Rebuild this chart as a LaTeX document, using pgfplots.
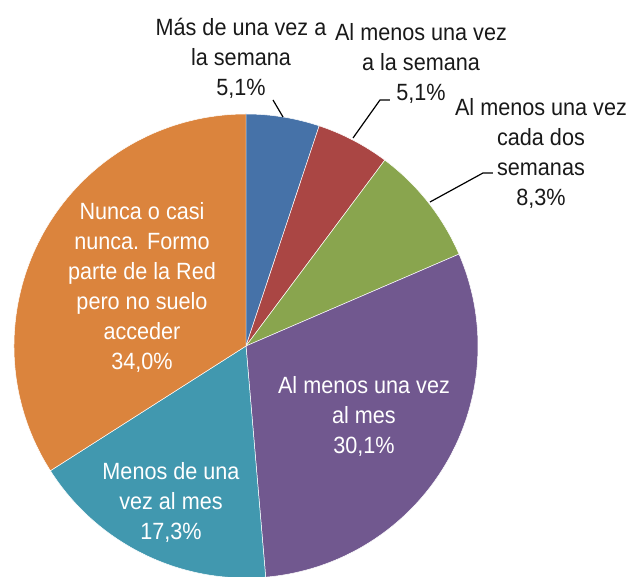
\documentclass[border=0pt]{standalone}
\usepackage{fontspec}
\setmainfont{Liberation Sans}[FakeStretch=0.92]
\usepackage{pgfplots}
\usepackage{pgfplotstable}
\pgfplotsset{compat=1.18}

\definecolor{slice0}{HTML}{4672A8}
\definecolor{slice1}{HTML}{AA4644}
\definecolor{slice2}{HTML}{89A54E}
\definecolor{slice3}{HTML}{71588F}
\definecolor{slice4}{HTML}{4198AF}
\definecolor{slice5}{HTML}{DB843D}

% share of each slice, clockwise from the top
\pgfplotstableread{
pct
5.1
5.1
8.3
30.1
17.3
34.0
}\piedata

\newcommand{\labfont}{\fontsize{23.5bp}{30bp}\selectfont}

\begin{document}
\begin{tikzpicture}
% total and cumulative angles
\xdef\total{0}
\foreach \i in {0,...,5}{
  \pgfplotstablegetelem{\i}{pct}\of\piedata
  \pgfmathsetmacro\t{\total+\pgfplotsretval}
  \xdef\total{\t}
}
\xdef\cum{0}
\foreach \i in {0,...,5}{
  \pgfplotstablegetelem{\i}{pct}\of\piedata
  \pgfmathsetmacro\s{90-\cum/\total*360}
  \pgfmathsetmacro\c{\cum+\pgfplotsretval}
  \pgfmathsetmacro\e{90-\c/\total*360}
  \expandafter\xdef\csname sa\i\endcsname{\s}
  \expandafter\xdef\csname ea\i\endcsname{\e}
  \xdef\cum{\c}
}
\useasboundingbox (0,0) rectangle (630bp,577bp);
\begin{axis}[
    hide axis,
    scale only axis,
    width=630bp, height=577bp,
    xmin=0, xmax=630, ymin=0, ymax=577,
    clip=false,
]
\pgfplotsinvokeforeach{0,...,5}{
  \fill[fill=slice#1, draw=white, line width=0.5pt]
    (axis cs:246,231) -- ++(\csname sa#1\endcsname:232bp)
    arc[start angle=\csname sa#1\endcsname, end angle=\csname ea#1\endcsname, radius=232bp] -- cycle;
}

% leader lines
\draw[black, line width=1.2pt] (axis cs:273,477) -- (axis cs:283,460);
\draw[black, line width=1.2pt] (axis cs:390,477) -- (axis cs:380,477) -- (axis cs:353,439);
\draw[black, line width=1.2pt] (axis cs:493,404) -- (axis cs:483,404) -- (axis cs:430,375);

\begin{scope}[every node/.style={align=center, inner sep=0pt, font=\labfont}]
\node[text=black!90] at (axis cs:241,519) {Más de una vez a\\la semana\\5,1\%};
\node[text=black!90] at (axis cs:421,514) {Al menos una vez\\a la semana\\5,1\%};
\node[text=black!90] at (axis cs:541,424) {Al menos una vez\\cada dos\\semanas\\8,3\%};
\node[text=white] at (axis cs:142,290) {Nunca o casi\\nunca. Formo\\parte de la Red\\pero no suelo\\acceder\\34,0\%};
\node[text=white] at (axis cs:364,161) {Al menos una vez\\al mes\\30,1\%};
\node[text=white] at (axis cs:171,75) {Menos de una\\vez al mes\\17,3\%};
\end{scope}
\end{axis}
\end{tikzpicture}
\end{document}
